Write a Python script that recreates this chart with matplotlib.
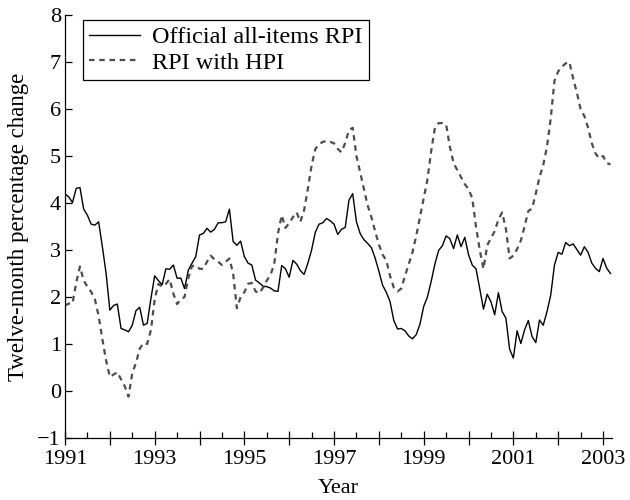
import numpy as np
import matplotlib
matplotlib.use('Agg')
import matplotlib.pyplot as plt
from matplotlib.ticker import MultipleLocator, FuncFormatter

# monthly twelve-month % change, Jan 1991 .. Mar 2003
official_rpi = [
  4.19, 4.13, 4.01, 4.31, 4.33, 3.87, 3.74, 3.55, 3.53, 3.60, 3.07, 2.50,
  1.72, 1.82, 1.85, 1.33, 1.30, 1.26, 1.40, 1.71, 1.78, 1.40, 1.44, 1.97,
  2.45, 2.35, 2.26, 2.60, 2.59, 2.68, 2.40, 2.40, 2.18, 2.57, 2.72, 2.86,
  3.32, 3.35, 3.46, 3.38, 3.44, 3.58, 3.58, 3.60, 3.87, 3.18, 3.10, 3.19,
  2.86, 2.72, 2.68, 2.36, 2.30, 2.23, 2.22, 2.19, 2.13, 2.12, 2.67, 2.60,
  2.42, 2.78, 2.70, 2.56, 2.48, 2.72, 3.00, 3.38, 3.55, 3.58, 3.67, 3.62,
  3.55, 3.33, 3.44, 3.48, 4.06, 4.20, 3.60, 3.35, 3.22, 3.14, 3.05, 2.83,
  2.55, 2.25, 2.10, 1.90, 1.50, 1.32, 1.33, 1.28, 1.17, 1.11, 1.20, 1.42,
  1.80, 2.00, 2.33, 2.70, 2.99, 3.09, 3.30, 3.24, 3.03, 3.32, 3.07, 3.27,
  2.90, 2.68, 2.60, 2.18, 1.74, 2.06, 1.90, 1.62, 2.09, 1.69, 1.55, 0.89,
  0.70, 1.28, 1.01, 1.30, 1.50, 1.16, 1.03, 1.51, 1.40, 1.69, 2.04, 2.68,
  2.95, 2.91, 3.16, 3.09, 3.13, 3.01, 2.89, 3.07, 2.95, 2.72, 2.61, 2.54,
  2.82, 2.61, 2.50,
]
rpi_hpi = [
  1.82, 1.86, 1.86, 2.30, 2.65, 2.35, 2.22, 2.11, 1.95, 1.60, 1.10, 0.65,
  0.30, 0.35, 0.40, 0.25, 0.10, -0.12, 0.38, 0.60, 0.90, 1.02, 1.00, 1.30,
  1.95, 2.28, 2.22, 2.28, 2.38, 2.07, 1.85, 1.95, 2.00, 2.40, 2.66, 2.67,
  2.60, 2.60, 2.75, 2.88, 2.80, 2.75, 2.68, 2.75, 2.82, 2.50, 1.76, 2.00,
  2.10, 2.28, 2.30, 2.12, 2.08, 2.20, 2.35, 2.47, 2.70, 3.35, 3.74, 3.47,
  3.57, 3.70, 3.80, 3.60, 3.85, 4.30, 4.80, 5.15, 5.25, 5.30, 5.32, 5.30,
  5.27, 5.15, 5.08, 5.28, 5.55, 5.60, 5.00, 4.65, 4.30, 3.95, 3.70, 3.40,
  3.12, 2.90, 2.78, 2.45, 2.20, 2.12, 2.18, 2.45, 2.70, 2.95, 3.30, 3.70,
  4.10, 4.50, 5.10, 5.60, 5.70, 5.70, 5.67, 5.20, 4.85, 4.70, 4.55, 4.40,
  4.30, 4.10, 3.50, 3.00, 2.60, 3.10, 3.25, 3.40, 3.65, 3.80, 3.45, 2.82,
  2.88, 3.02, 3.20, 3.50, 3.83, 3.88, 4.20, 4.55, 4.81, 5.20, 5.80, 6.60,
  6.80, 6.90, 6.97, 7.00, 6.65, 6.35, 6.00, 5.85, 5.60, 5.27, 5.05, 4.95,
  5.00, 4.85, 4.82,
]
start_year = 1991
months = np.arange(len(official_rpi))
t = start_year + months/12.0

plt.rcParams['font.family'] = ['Liberation Serif', 'DejaVu Serif']

fig = plt.figure(figsize=(6.3,5.0), dpi=100)
ax = fig.add_axes([65/630, 1-438/500, (612-65)/630, (438-15)/500])

ax.plot(t, official_rpi, color='black', linewidth=1.0, label='Official all-items RPI')
ax.plot(t, rpi_hpi, color='#4d4d4d', linewidth=1.6, linestyle=(0,(2.5,2.1)), label='RPI with HPI')

ax.set_xlim(1991, 2003.2)
ax.set_ylim(-1, 8)
ax.spines['top'].set_visible(False)
ax.spines['right'].set_visible(False)
for s in ['left','bottom']:
  ax.spines[s].set_linewidth(0.9)

ax.xaxis.set_major_locator(MultipleLocator(1))
ax.xaxis.set_minor_locator(MultipleLocator(0.5))
ax.xaxis.set_major_formatter(FuncFormatter(lambda v,p: '%d'%round(v) if round(v)%2==1 else ''))
ax.tick_params(axis='x', which='major', direction='inout', length=10, width=0.9, labelsize=16, pad=4)
ax.tick_params(axis='x', which='minor', direction='in', length=4, width=0.9)
ax.yaxis.set_major_locator(MultipleLocator(1))
ax.yaxis.set_major_formatter(FuncFormatter(lambda v,p: '\u2212%d'%abs(v) if v<0 else '%d'%v))
ax.tick_params(axis='y', which='major', direction='in', length=5, width=0.9, labelsize=16, pad=3)

ax.set_xlabel('Year', fontsize=16, labelpad=7)
ax.set_ylabel('Twelve-month percentage change', fontsize=16.5, labelpad=6)

leg = ax.legend(loc='upper left', bbox_to_anchor=(0.033, 0.988), borderaxespad=0,
  fontsize=17.5, frameon=True, fancybox=False, edgecolor='black', framealpha=1,
  handlelength=2.1, handletextpad=0.5, borderpad=0.25, labelspacing=0.15)
leg.get_frame().set_linewidth(0.9)

plt.savefig('out.png', dpi=100)
